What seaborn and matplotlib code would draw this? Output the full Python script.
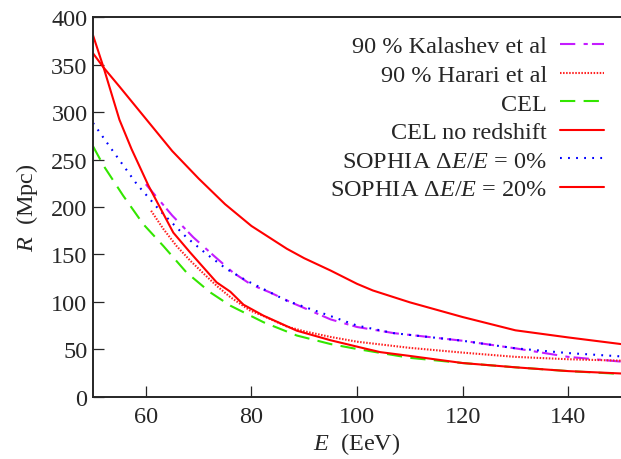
import seaborn as sns
import matplotlib
matplotlib.use('Agg')
import matplotlib.pyplot as plt
import pandas as pd

# values (E in EeV, R in Mpc)
kal_e = [60, 65, 69, 73, 76.5, 80, 83.5, 87.5, 95, 100, 107, 120, 130, 140, 150]
kal_r = [224, 191, 168, 148, 131, 118, 110, 99.5, 81.5, 73.5, 67, 59, 51, 42, 37]

har_e = [61, 63.3, 65.8, 68.4, 71, 73.4, 76, 79.7, 82.3, 86.7, 90, 95, 100, 110, 120, 130, 140, 150]
har_r = [196, 177, 159, 143.5, 129.5, 117, 105, 91, 85, 74, 69, 63, 58, 51.5, 46.5, 42, 39.5, 38]

cel_e = [50, 52, 55.7, 59.5, 63.3, 67.7, 72.2, 76, 82.3, 88.6, 95, 100, 110, 120, 130, 140, 150]
cel_r = [264, 243.5, 212, 182, 159, 131, 110, 96, 78.5, 64.5, 55.5, 50.3, 41, 35.5, 31, 27, 24]

celnr_e = [50, 52, 55, 60, 65, 70, 75, 80, 86.7, 90, 95, 100, 103, 110, 120, 130, 140, 150]
celnr_r = [362, 347, 327, 293, 259, 230, 203, 180, 156, 146, 133, 119, 112, 99.5, 84, 70, 62.5, 55.5]

soph0_e = [50, 53.5, 58.3, 62.7, 67.7, 71.5, 75.3, 79.1, 82.9, 86.7, 95, 100, 107, 120, 130, 140, 150]
soph0_r = [288.6, 261, 224, 196, 168, 150.4, 134.6, 122.3, 111.8, 101.2, 85, 75, 67, 59, 51, 46, 42.5]

soph20_e = [50, 52, 55, 57.3, 60.5, 65.2, 68.4, 73.4, 76, 78.5, 82.3, 88.6, 95, 100.6, 104.4, 110,
            120, 130, 140, 150]
soph20_r = [381, 347, 292, 261, 222.5, 173, 152, 120.6, 110.7, 97, 85.4, 69.6, 59.5, 52, 47, 43,
            35.5, 31, 27, 24.5]

sns.set_style('ticks')
plt.rcParams['font.family'] = ['Liberation Serif', 'DejaVu Serif']
plt.rcParams['mathtext.fontset'] = 'custom'
plt.rcParams['mathtext.rm'] = 'Liberation Serif'
plt.rcParams['mathtext.it'] = 'Liberation Serif:italic'

fig = plt.figure(figsize=(6.21, 4.60), dpi=100)
ax = fig.add_axes([0.1498, 0.1354, 0.8502, 0.8249])

lw = 1.5
fs = 17.5
series = [
    (kal_e, kal_r, '90 % Kalashev et al', '#c41cff', (0, (11 / lw, 6 / lw, 3 / lw, 3 / lw))),
    (har_e, har_r, '90 % Harari et al', '#ff2020', (0, (1.1 / lw, 1.1 / lw))),
    (cel_e, cel_r, 'CEL', '#33e600', (0, (11 / lw, 6 / lw))),
    (celnr_e, celnr_r, 'CEL no redshift', '#ff0000', '-'),
    (soph0_e, soph0_r, r'SOPHIA $\Delta E/E$ = 0%', '#0000ff', (0, (1.3 / lw, 4.5 / lw))),
    (soph20_e, soph20_r, r'SOPHIA $\Delta E/E$ = 20%', '#ff0000', '-'),
]

for e, r, name, col, ls in series:
    d = pd.DataFrame({'E': e, 'R': r})
    sns.lineplot(data=d, x='E', y='R', ax=ax, color=col, linestyle=ls, linewidth=lw, label=name)

ax.set_xlim(50, 150)
ax.set_ylim(0, 400)
ax.set_xticks([60, 80, 100, 120, 140])
ax.set_yticks(range(0, 401, 50))
ax.tick_params(direction='in', length=8, width=0.9, labelsize=fs, pad=4)
ax.tick_params(axis='x', pad=7)
for s in ['left', 'bottom', 'top']:
    ax.spines[s].set_linewidth(1.4)
ax.spines['right'].set_visible(False)

ax.set_xlabel(r'$E$  (EeV)', fontsize=fs, labelpad=2)
ax.set_ylabel(r'$R$  (Mpc)', fontsize=fs, labelpad=8)

ax.legend(loc='upper right', bbox_to_anchor=(0.968, 0.952), frameon=False, markerfirst=False,
          fontsize=fs, handlelength=1.8, handletextpad=0.55, labelspacing=0.27,
          borderpad=0, borderaxespad=0)

fig.savefig('out.png', dpi=100)
